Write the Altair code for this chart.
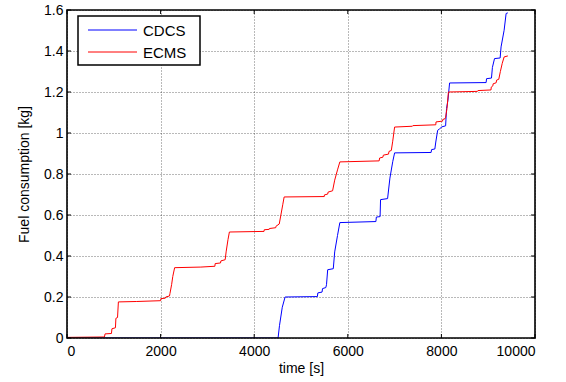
import altair as alt
import pandas as pd

# Cumulative fuel use over a drive cycle for two energy-management strategies
series_names = ["CDCS", "ECMS"]
series_colors = ["#0000ff", "#ff0000"]

cdcs_t = [0, 4510, 4540, 4600, 4660, 5350, 5360, 5450, 5460, 5530, 5545, 5570,
          5690, 5720, 5780, 5830, 6600, 6610, 6690, 6700, 6850, 6900, 6960, 7000,
          7780, 7790, 7860, 7880, 7920, 7960, 8010, 8090, 8110, 8140, 8175, 8955,
          8965, 9070, 9090, 9135, 9255, 9275, 9340, 9383, 9420]
cdcs_kg = [0.0, 0.0, 0.06, 0.15, 0.2, 0.202, 0.22, 0.224, 0.241, 0.246, 0.26, 0.333,
           0.338, 0.42, 0.5, 0.563, 0.568, 0.59, 0.592, 0.675, 0.68, 0.78, 0.86, 0.903,
           0.905, 0.919, 0.922, 0.956, 1.013, 1.02, 1.03, 1.035, 1.12, 1.16, 1.244, 1.246,
           1.265, 1.268, 1.32, 1.363, 1.366, 1.42, 1.501, 1.583, 1.586]

ecms_t = [0, 800, 813, 950, 960, 1035, 1045, 1080, 1098, 1480, 2000, 2005, 2100,
          2110, 2190, 2200, 2235, 2260, 2300, 2860, 3160, 3166, 3280, 3288, 3380,
          3400, 3440, 3470, 4210, 4215, 4320, 4325, 4460, 4465, 4535, 4570, 4610,
          4640, 5497, 5500, 5570, 5580, 5675, 5720, 5780, 5830, 6670, 6680, 6750,
          6760, 6870, 6880, 6930, 6960, 7000, 7380, 7390, 7880, 7885, 8025, 8030,
          8080, 8090, 8120, 8150, 8770, 8780, 9060, 9065, 9100, 9105, 9170, 9180,
          9226, 9260, 9300, 9340, 9420]
ecms_kg = [0.003, 0.005, 0.02, 0.022, 0.045, 0.05, 0.096, 0.1, 0.176, 0.178, 0.182,
           0.192, 0.194, 0.2, 0.205, 0.217, 0.26, 0.3, 0.343, 0.346, 0.35, 0.363, 0.366,
           0.376, 0.382, 0.42, 0.48, 0.517, 0.52, 0.528, 0.53, 0.534, 0.538, 0.545,
           0.556, 0.6, 0.65, 0.688, 0.69, 0.698, 0.702, 0.712, 0.718, 0.77, 0.82, 0.859,
           0.864, 0.878, 0.882, 0.892, 0.897, 0.91, 0.915, 0.96, 1.029, 1.033, 1.036,
           1.04, 1.054, 1.058, 1.066, 1.07, 1.077, 1.12, 1.2, 1.203, 1.207, 1.21, 1.224,
           1.23, 1.24, 1.245, 1.258, 1.262, 1.3, 1.34, 1.371, 1.376]

x_ticks = [0, 2000, 4000, 6000, 8000, 10000]
y_ticks = [0, 0.2, 0.4, 0.6, 0.8, 1.0, 1.2, 1.4, 1.6]

W, H = 468, 328
FONT = "Liberation Sans"
TICK_LEN = 4

x_scale = alt.Scale(domain=[0, 10000], nice=False, zero=False)
y_scale = alt.Scale(domain=[0, 1.6], nice=False)

axis_style = dict(
    labelFont=FONT, titleFont=FONT, labelFontSize=14, titleFontSize=14,
    labelColor="#000", titleColor="#000", titleFontWeight="normal",
    ticks=False, domain=False,
    grid=True, gridDash=[1, 2], gridColor="#000", gridOpacity=0.55,
)
x_axis = alt.Axis(values=x_ticks, format="d", title="time [s]",
                  labelPadding=6, titlePadding=3, **axis_style)
y_axis = alt.Axis(values=y_ticks, format=".1~f", title="Fuel consumption [kg]",
                  labelPadding=4, titlePadding=12, **axis_style)

frames = []
for name, t, kg in [("CDCS", cdcs_t, cdcs_kg), ("ECMS", ecms_t, ecms_kg)]:
    frames.append(pd.DataFrame({"time": t, "fuel": kg, "series": name}))

color = alt.Color("series:N", scale=alt.Scale(domain=series_names, range=series_colors),
                  legend=None)

# axes and grid come from the first layer
base = alt.Chart(frames[0]).mark_line(strokeWidth=1, clip=True).encode(
    x=alt.X("time:Q", scale=x_scale, axis=x_axis),
    y=alt.Y("fuel:Q", scale=y_scale, axis=y_axis),
    color=color,
)
ecms_line = alt.Chart(frames[1]).mark_line(strokeWidth=1, clip=True).encode(
    x=alt.X("time:Q", scale=x_scale),
    y=alt.Y("fuel:Q", scale=y_scale),
    color=color,
)

# inward tick marks on all four sides of the box
xt = pd.DataFrame({"v": x_ticks})
yt = pd.DataFrame({"v": y_ticks})
tick_style = dict(color="#000", strokeWidth=1)
ticks_bottom = alt.Chart(xt).mark_rule(**tick_style).encode(
    x=alt.X("v:Q", scale=x_scale), y=alt.value(H), y2=alt.value(H - TICK_LEN))
ticks_top = alt.Chart(xt).mark_rule(**tick_style).encode(
    x=alt.X("v:Q", scale=x_scale), y=alt.value(0), y2=alt.value(TICK_LEN))
ticks_left = alt.Chart(yt).mark_rule(**tick_style).encode(
    y=alt.Y("v:Q", scale=y_scale), x=alt.value(0), x2=alt.value(TICK_LEN))
ticks_right = alt.Chart(yt).mark_rule(**tick_style).encode(
    y=alt.Y("v:Q", scale=y_scale), x=alt.value(W), x2=alt.value(W - TICK_LEN))

# plot frame drawn as a rectangle over the whole data area
frame = alt.Chart(pd.DataFrame({"k": [0]})).mark_rect(
    fill=None, stroke="#000", strokeWidth=1.6).encode(
    x=alt.value(0), x2=alt.value(W), y=alt.value(0), y2=alt.value(H))

# boxed legend in the upper-left corner
legend_box = alt.Chart(pd.DataFrame({"k": [0]})).mark_rect(
    fill="white", stroke="#000", strokeWidth=1.5).encode(
    x=alt.value(11), x2=alt.value(133), y=alt.value(6), y2=alt.value(55))
legend_layers = [legend_box]
for i, (name, col) in enumerate(zip(series_names, series_colors)):
    row_y = 20 + 22 * i
    legend_layers.append(
        alt.Chart(pd.DataFrame({"series": [name]})).mark_rule(color=col, strokeWidth=1).encode(
            x=alt.value(21), x2=alt.value(70), y=alt.value(row_y)))
    legend_layers.append(
        alt.Chart(pd.DataFrame({"series": [name]})).mark_text(
            align="left", baseline="middle", font=FONT, fontSize=15, color="#000").encode(
            text="series:N", x=alt.value(76), y=alt.value(row_y + 1)))

chart = alt.layer(
    base, ecms_line, ticks_bottom, ticks_top, ticks_left, ticks_right, frame,
    *legend_layers
).properties(
    width=W, height=H,
    background="white",
    view=alt.ViewBackground(stroke=None),
    autosize=alt.AutoSizeParams(type="none"),
    padding={"left": 67, "top": 10, "right": 31, "bottom": 44},
)

chart.save("out.html", embed_options={"renderer": "svg", "actions": False})
